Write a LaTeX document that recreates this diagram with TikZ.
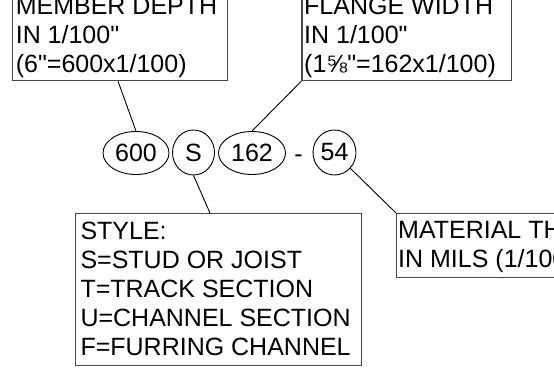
\documentclass[tikz,border=0pt]{standalone}
\usepackage{fontspec}
\newfontfamily\arialfont{Liberation Sans}
\usetikzlibrary{shapes.geometric,calc}
\tikzset{
  boxframe/.style={draw=black!72, line width=1.2pt, rectangle, inner sep=0pt, anchor=north west},
  txtline/.style={inner sep=0pt, anchor=base west, font=\arialfont\fontsize{25}{29}\selectfont},
  oval/.style={draw, ellipse, line width=0.9pt, inner sep=0pt, font=\arialfont\fontsize{25}{29}\selectfont},
  leader/.style={line width=0.9pt, black}
}
\begin{document}
\begin{tikzpicture}[x=1pt,y=-1pt]
\useasboundingbox (0,0) rectangle (554,369);
\clip (0,0) rectangle (554,369);
% boxes
\node[boxframe, minimum width=215.3pt, minimum height=100pt] (tl) at (11.7,-20) {};
\node[boxframe, minimum width=209.7pt, minimum height=100pt] (tr) at (301.3,-20) {};
\node[boxframe, minimum width=286pt, minimum height=152pt] (st) at (75,213) {};
\node[boxframe, minimum width=224pt, minimum height=64pt] (mt) at (396,213) {};
% texts
\node[txtline] (tl1) at (15.6,14.5) {MEMBER DEPTH};
\node[txtline] (tl2) at (15.6,43.5) {IN 1/100"};
\node[txtline] (tl3) at (15.6,72.3) {(6"=600x1/100)};
\node[txtline] (tr1) at (304,14.5) {FLANGE WIDTH};
\node[txtline] (tr2) at (304,43.5) {IN 1/100"};
\node[txtline] (tr3) at (304,72.3) {(1⅝"=162x1/100)};
\node[txtline] (st1) at (80.3,239.3) {STYLE:};
\node[txtline] (st2) at (80.3,268.3) {S=STUD OR JOIST};
\node[txtline] (st3) at (80.3,297.3) {T=TRACK SECTION};
\node[txtline] (st4) at (80.3,326.3) {U=CHANNEL SECTION};
\node[txtline] (st5) at (80.3,355.3) {F=FURRING CHANNEL};
\node[txtline] (mt1) at (398,238.5) {MATERIAL THICKNESS};
\node[txtline] (mt2) at (398,267.5) {IN MILS (1/1000")};
% ovals
\node[oval, minimum width=66pt, minimum height=43pt] (e600) at (136,153) {600};
\node[oval, minimum width=42pt, minimum height=45pt] (eS) at (193.5,152.5) {S};
\node[oval, minimum width=67pt, minimum height=43pt] (e162) at (252,153) {162};
\node[inner sep=0pt, font=\arialfont\fontsize{25}{29}\selectfont] (dash) at (298.6,158.5) {-};
\node[oval, minimum width=43pt, minimum height=45pt] (e54) at (334.5,152.5) {54};
% leaders
\draw[leader] ($(tl.south west)+(106.3,0)$) -- (e600.north);
\draw[leader] (tr.south west) -- (e162.north);
\draw[leader] (eS.south) -- ($(st.north west)+(135,0)$);
\draw[leader] (e54.-45) -- (mt.north west);
\end{tikzpicture}
\end{document}
